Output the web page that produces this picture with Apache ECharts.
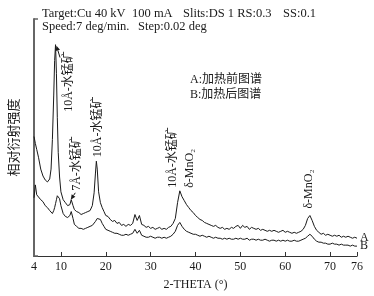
<!DOCTYPE html>
<html>
<head>
<meta charset="utf-8">
<script src="https://cdn.jsdelivr.net/npm/echarts@6/dist/echarts.min.js"></script>
<style>
html,body{margin:0;padding:0;background:#fff;}
#c{width:374px;height:296px;}
</style>
</head>
<body>
<div id="c"></div>
<script>
// 2-theta values (deg)
const theta = [
  4, 4.3, 4.6, 5, 5.5, 6, 6.5, 7, 7.5, 7.8,
  8.1, 8.4, 8.6, 8.8, 9.0, 9.2, 9.4, 9.7, 10, 10.5,
  11, 11.5, 12, 12.3, 12.7, 13, 13.5, 14, 14.5, 15,
  15.5, 16, 16.5, 17, 17.4, 17.7, 17.9, 18.1, 18.4, 18.8,
  19.2, 19.6, 20, 20.5, 21, 21.5, 22, 22.5, 23, 23.5,
  24, 24.5, 25, 25.5, 26, 26.5, 27, 27.5, 28, 28.5,
  29, 29.5, 30, 30.5, 31, 31.5, 32, 32.5, 33, 33.5,
  34, 34.5, 35, 35.5, 36, 36.5, 37, 37.5, 38, 38.5,
  39, 39.5, 40, 40.5, 41, 41.5, 42, 42.5, 43, 43.5,
  44, 44.5, 45, 45.5, 46, 46.5, 47, 47.5, 48, 48.5,
  49, 49.5, 50, 50.5, 51, 51.5, 52, 52.5, 53, 53.5,
  54, 54.5, 55, 55.5, 56, 56.5, 57, 57.5, 58, 58.5,
  59, 59.5, 60, 60.5, 61, 61.5, 62, 62.5, 63, 63.5,
  64, 64.5, 65, 65.5, 66, 66.5, 67, 67.5, 68, 68.5,
  69, 69.5, 70, 70.5, 71, 71.5, 72, 72.5, 73, 73.5,
  74, 74.5, 75, 75.5, 76
];
// A: before heating (relative intensity)
const intensityA = [
  121, 114, 108, 100, 88, 81, 77, 75, 78, 88,
  118, 163, 198, 214, 185, 140, 105, 80, 65, 57,
  54, 51, 52, 57, 51, 47, 45, 44, 42, 43,
  44, 45, 46, 51, 64, 84, 96, 88, 65, 54,
  49, 45, 41, 40, 37, 35, 36, 33, 34, 31,
  32, 30, 32, 31, 33, 42, 36, 41, 32, 31,
  29, 30, 28, 29, 27, 28, 29, 27, 28, 27,
  29, 30, 33, 38, 54, 66, 60, 56, 52, 49,
  46, 44, 41, 39, 37, 36, 34, 33, 32, 31,
  30, 31, 29, 28, 29, 27, 28, 27, 29, 28,
  30, 31, 28, 31, 29, 30, 27, 29, 28, 27,
  28, 26, 27, 26, 25, 26, 25, 26, 25, 24,
  25, 26, 24, 25, 24, 23, 24, 23, 24, 25,
  27, 31, 38, 41, 36, 30, 26, 24, 22, 23,
  21, 22, 21, 20, 21, 20, 21, 19, 20, 19,
  20, 19, 18, 19, 18
];
// B: after heating (relative intensity)
const intensityB = [
  59, 72, 62, 64, 57, 55, 51, 49, 46, 44,
  43, 46, 49, 53, 57, 61, 62, 58, 51, 43,
  40, 39, 41, 45, 38, 32, 30, 28, 28, 27,
  28, 29, 30, 31, 33, 35, 37, 38, 39, 37,
  33, 30, 27, 26, 25, 24, 23, 23, 22, 21,
  21, 22, 21, 22, 23, 27, 23, 26, 21, 20,
  19, 19, 20, 19, 18, 19, 19, 18, 19, 18,
  19, 20, 22, 25, 31, 34, 30, 27, 25, 24,
  23, 22, 22, 21, 20, 21, 20, 19, 20, 19,
  18, 19, 18, 18, 17, 18, 17, 18, 17, 17,
  18, 17, 18, 17, 17, 18, 16, 17, 17, 16,
  17, 16, 16, 17, 16, 15, 16, 16, 15, 16,
  15, 16, 15, 16, 15, 15, 16, 15, 15, 16,
  17, 18, 20, 22, 20, 17, 15, 14, 14, 13,
  13, 12, 12, 13, 12, 12, 11, 12, 11, 11,
  11, 10, 11, 10, 10
];
const xTickLabels = [4, 10, 20, 30, 40, 50, 60, 70, 76];
const xTickMarks = [10, 20, 30, 40, 50, 60, 70, 76];
const seriesNames = ['A', 'B'];
const legendLines = ['A:加热前图谱', 'B:加热后图谱'];
const headerLine1 = ['Target:Cu 40 kV', '100 mA', 'Slits:DS 1 RS:0.3', 'SS:0.1'];
const headerLine2 = ['Speed:7 deg/min.', 'Step:0.02 deg'];
const yAxisName = '相对衍射强度';
const xAxisName = '2-THETA (°)';

const FONT = '"Liberation Serif", "Times New Roman", "Noto Sans CJK SC", serif';
const INK = '#1a1a1a';

const chart = echarts.init(document.getElementById('c'), null, {renderer: 'canvas'});

const mk = (vals) => theta.map((t, i) => [t, vals[i]]);

chart.setOption({
  animation: false,
  backgroundColor: '#fff',
  grid: {left: 29, right: 17, top: 19, bottom: 37},
  xAxis: {
    type: 'value', min: 4, max: 76,
    name: xAxisName, nameLocation: 'middle', nameGap: 23,
    nameTextStyle: {fontFamily: FONT, fontSize: 12, color: INK},
    axisLine: {lineStyle: {color: '#333', width: 1.2}},
    axisTick: {show: true, inside: true, length: 4, customValues: xTickMarks, lineStyle: {color: '#333'}},
    axisLabel: {customValues: xTickLabels, fontFamily: FONT, fontSize: 12, color: INK, margin: 5},
    splitLine: {show: false}
  },
  yAxis: {
    type: 'value', min: 0, max: 240, interval: 240,
    name: yAxisName, nameLocation: 'middle', nameRotate: 90, nameGap: 13,
    nameTextStyle: {fontFamily: FONT, fontSize: 13, color: INK},
    axisLine: {show: true, lineStyle: {color: '#666', width: 2}},
    axisTick: {show: true, inside: true, length: 4, lineStyle: {color: '#666', width: 1.5}},
    axisLabel: {show: false},
    splitLine: {show: false}
  },
  series: [intensityA, intensityB].map((vals, k) => ({
    name: seriesNames[k],
    type: 'line',
    data: mk(vals),
    showSymbol: false,
    symbol: 'none',
    lineStyle: {color: INK, width: 1},
    endLabel: {show: true, formatter: seriesNames[k], fontFamily: FONT, fontSize: 12, color: INK, distance: 3}
  }))
});

// annotations placed in data coordinates
function P(t, v) { return chart.convertToPixel({gridIndex: 0}, [t, v]); }
function vtext(t, v, str, size) {
  const p = P(t, v);
  return {type: 'text', x: p[0], y: p[1], rotation: Math.PI / 2,
    style: {text: str, font: (size || 12) + 'px ' + FONT, fill: INK, textAlign: 'left', textVerticalAlign: 'middle'}};
}
function htext(x, y, str, size) {
  return {type: 'text', x: x, y: y,
    style: {text: str, font: (size || 12) + 'px ' + FONT, fill: INK, textAlign: 'left', textVerticalAlign: 'middle'}};
}
function arrow(t1, v1, t2, v2) {
  const a = P(t1, v1), b = P(t2, v2);
  const ang = Math.atan2(b[1] - a[1], b[0] - a[0]);
  const L = 5, W = 2.2;
  const bx = b[0] - L * Math.cos(ang), by = b[1] - L * Math.sin(ang);
  return [
    {type: 'line', shape: {x1: a[0], y1: a[1], x2: bx, y2: by}, style: {stroke: INK, lineWidth: 1}},
    {type: 'polygon', shape: {points: [[b[0], b[1]],
      [bx + W * Math.sin(ang), by - W * Math.cos(ang)],
      [bx - W * Math.sin(ang), by + W * Math.cos(ang)]]}, style: {fill: INK}}
  ];
}

const g = [];
g.push(vtext(11.7, 146, '10Å-水锰矿', 12));
g.push(...arrow(9.8, 201, 9.0, 213));
g.push(vtext(13.45, 66, '7Å-水锰矿', 12));
g.push(...arrow(13.2, 64, 12.2, 57));
g.push(vtext(18.3, 100, '10Å-水锰矿', 12));
g.push(vtext(35.0, 69, '10Å-水锰矿', 12));
g.push(vtext(38.7, 69, 'δ-MnO₂', 12));
g.push(vtext(65.3, 48, 'δ-MnO₂', 12));
g.push(htext(190, 80, legendLines[0], 12));
g.push(htext(190, 95, legendLines[1], 12));
const h1x = [42, 132, 183, 283];
headerLine1.forEach((s, i) => g.push(htext(h1x[i], 14, s, 12.5)));
const h2x = [42, 138];
headerLine2.forEach((s, i) => g.push(htext(h2x[i], 27, s, 12.5)));

chart.setOption({graphic: {elements: g}});
</script>
</body>
</html>
